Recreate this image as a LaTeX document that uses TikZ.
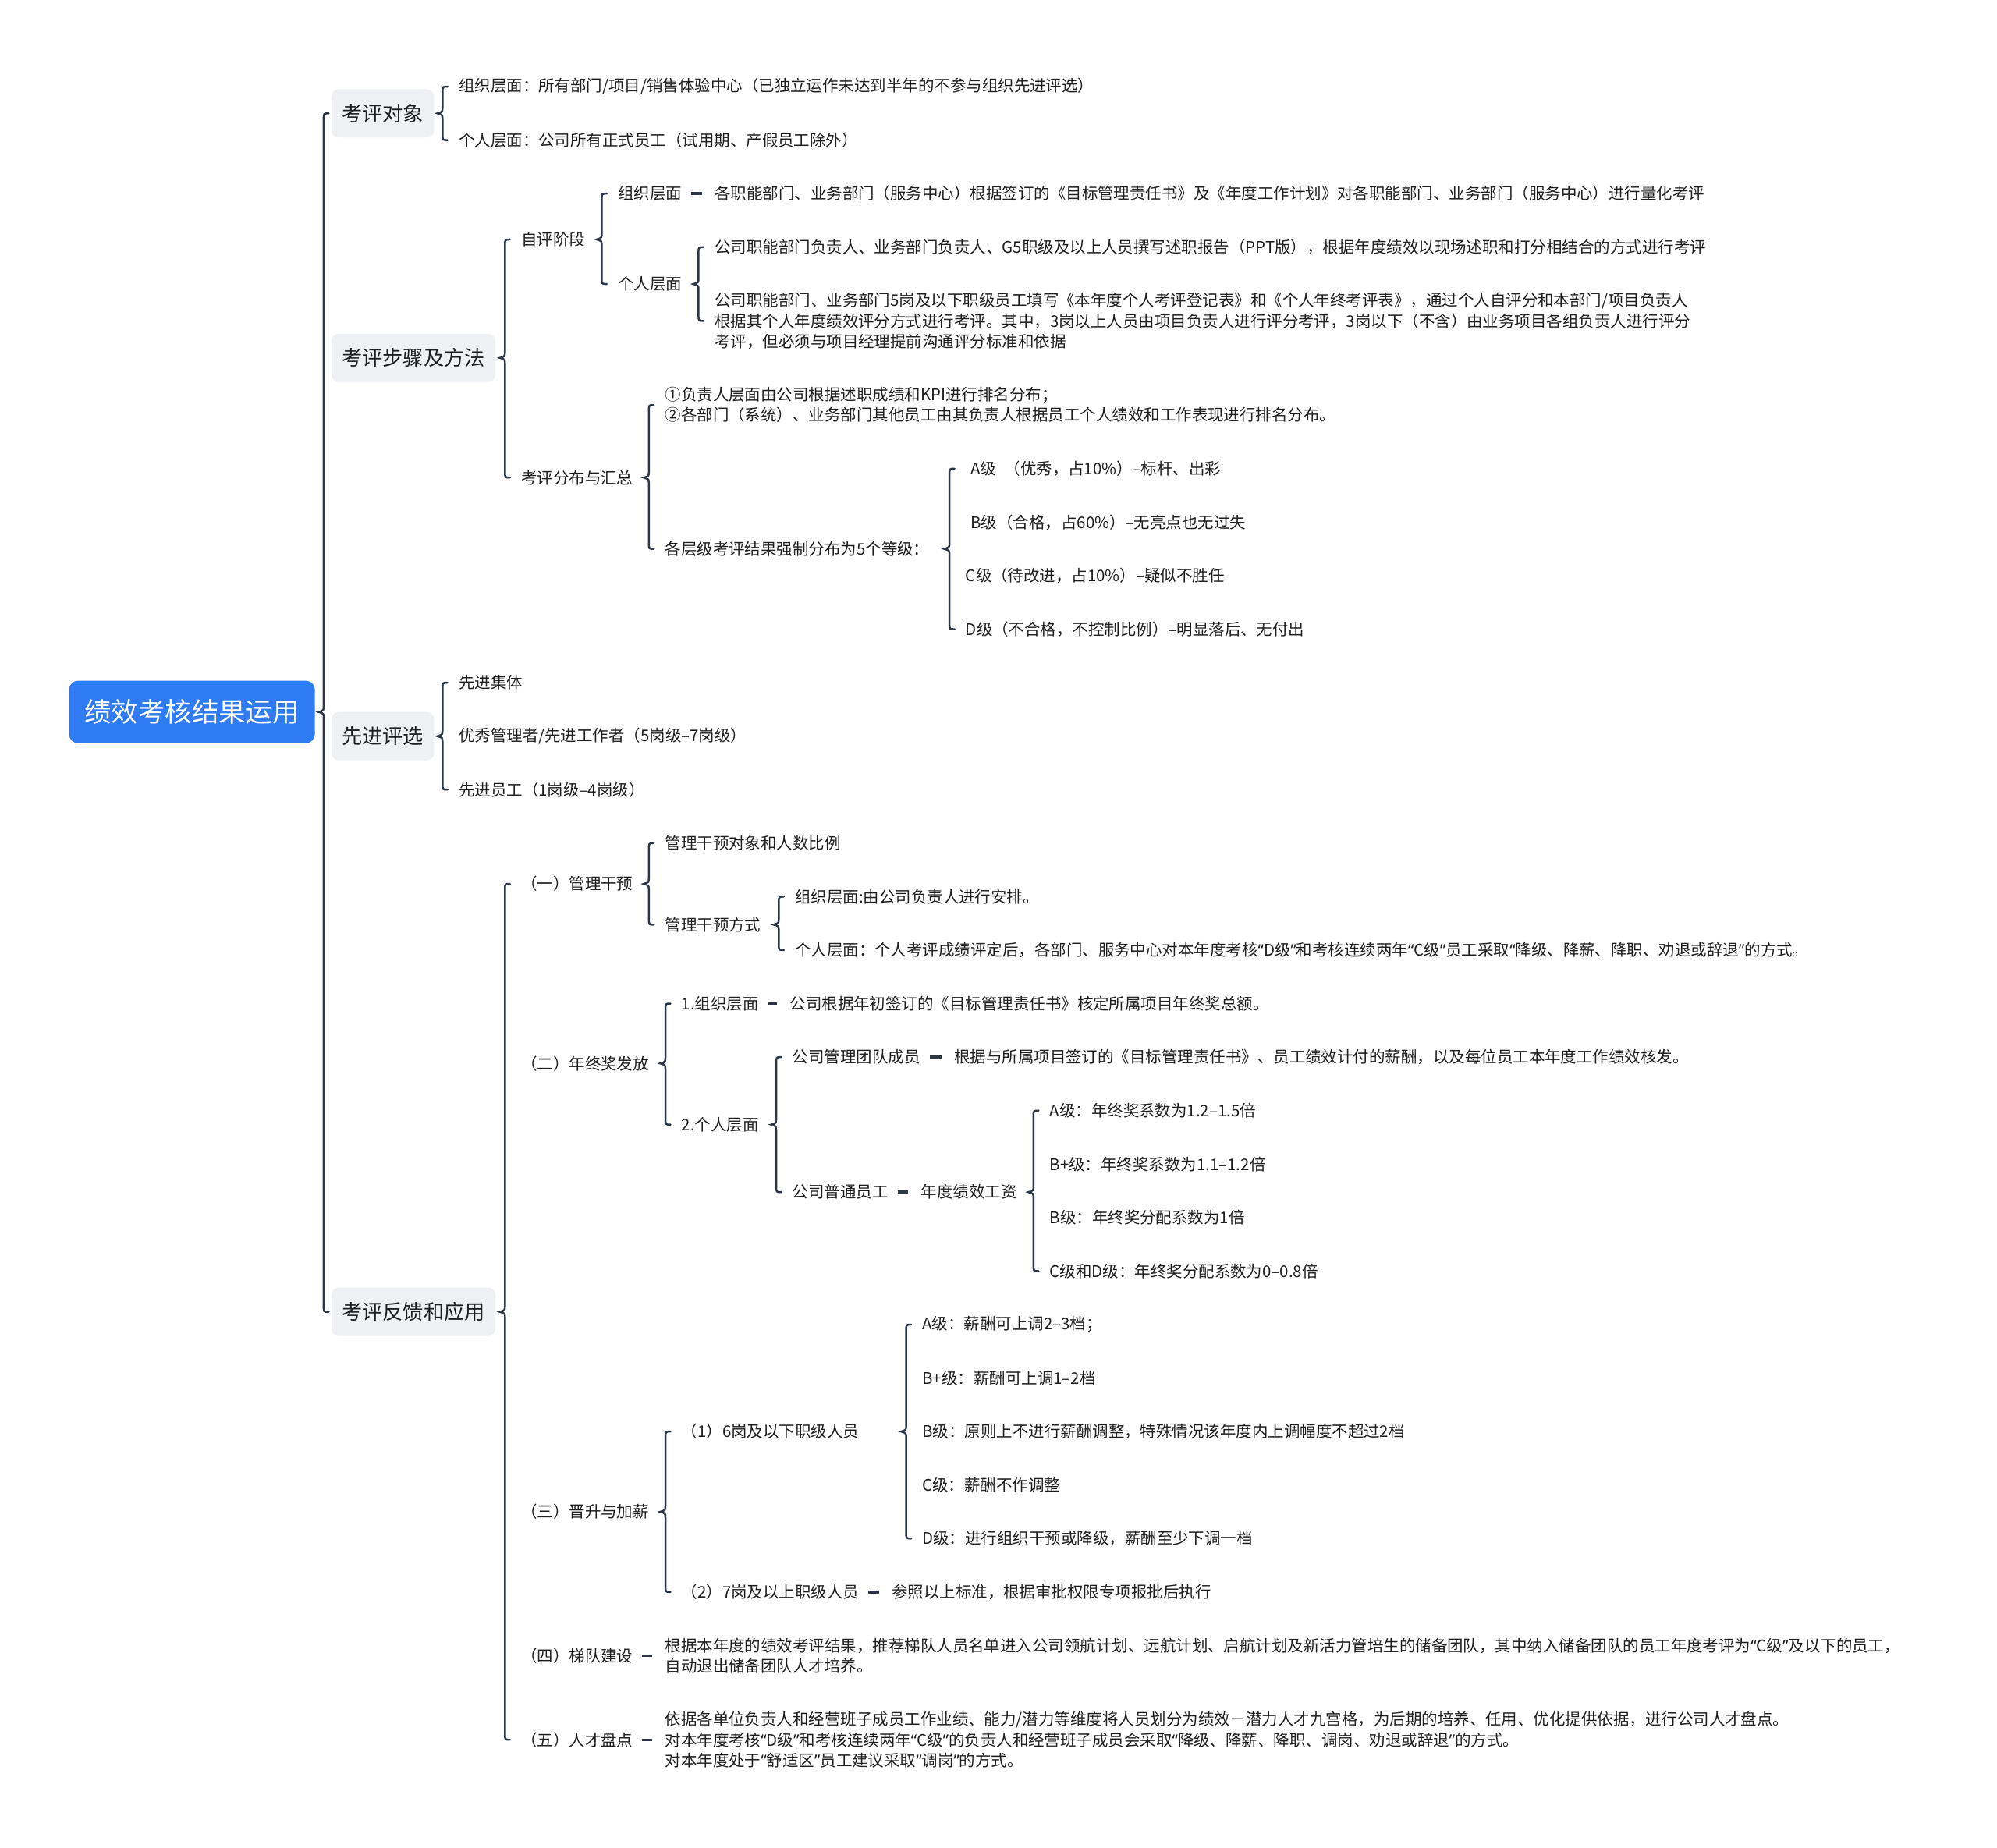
\documentclass[tikz,border=0pt]{standalone}
\usepackage{fontspec}
\setmainfont{Noto Sans CJK SC}
\newfontfamily\qfont{Noto Sans}
\usetikzlibrary{calc}

\definecolor{rootblue}{HTML}{2F7BF3}
\definecolor{boxgray}{HTML}{EEF0F3}
\definecolor{linenavy}{HTML}{2B3648}
\definecolor{txtcol}{HTML}{1E1E1E}

\newcommand\leaffont{\fontsize{10.7}{13.66}\selectfont}
\newcommand\topicfont{\fontsize{13.7}{16}\selectfont}
\newcommand\rootfont{\fontsize{18}{21}\selectfont}
\newcommand\qt[1]{{\qfont“}#1{\qfont”}}

% curly brace from a parent node to its first and last child
\newcommand\brc[4][10.7pt]{%
  \draw[brc] let \p0=(#2.east), \p1=(#3.west), \p2=(#4.west) in
    (\x2-#1+3.4pt,\y1) .. controls (\x2-#1,\y1) .. (\x2-#1,\y1-4pt)
    -- (\x2-#1,\y0+4pt) .. controls (\x2-#1,\y0+1pt) .. (\x2-#1-3.4pt,\y0)
    .. controls (\x2-#1,\y0-1pt) .. (\x2-#1,\y0-4pt)
    -- (\x2-#1,\y2+4pt) .. controls (\x2-#1,\y2) .. (\x2-#1+3.4pt,\y2);}

\begin{document}
\begin{tikzpicture}[x=0.03cm, y=-0.03cm,
    leaf/.style={anchor=west, inner xsep=0pt, inner ysep=2pt, font=\leaffont, text=txtcol, align=left},
    topic/.style={anchor=west, fill=boxgray, rounded corners=5pt, inner xsep=7pt, minimum height=1.14cm, font=\topicfont, text=txtcol},
    rootnode/.style={anchor=west, fill=rootblue, rounded corners=6pt, minimum width=5.79cm, minimum height=1.47cm, font=\rootfont, text=white},
    brc/.style={draw=linenavy, line width=1.3pt, line cap=round},
    dashc/.style={draw=linenavy, line width=1.8pt, shorten <=6pt, shorten >=8.5pt}]
    \useasboundingbox (0,0) rectangle (1568,1451);

    % Root and main topics
    \node[rootnode] (root) at (54,559) {绩效考核结果运用};
    \node[topic] (ob) at (260,89) {考评对象};
    \node[topic] (st) at (260,281) {考评步骤及方法};
    \node[topic] (xj) at (260,578) {先进评选};
    \node[topic] (fk) at (260,1030) {考评反馈和应用};
    \brc[5pt]{root}{ob}{fk}

    % 考评对象
    \node[leaf] (ob1) at (360,68) {组织层面：所有部门/项目/销售体验中心（已独立运作未达到半年的不参与组织先进评选）};
    \node[leaf] (ob2) at (360,110) {个人层面：公司所有正式员工（试用期、产假员工除外）};
    \brc{ob}{ob1}{ob2}

    % 考评步骤及方法
    \node[leaf] (zp) at (409,188) {自评阶段};
    \node[leaf] (fb) at (409,375) {考评分布与汇总};
    \brc{st}{zp}{fb}

    \node[leaf] (zp1) at (485,152) {组织层面};
    \node[leaf] (zp1t) at (561,152) {各职能部门、业务部门（服务中心）根据签订的《目标管理责任书》及《年度工作计划》对各职能部门、业务部门（服务中心）进行量化考评};
    \draw[dashc] (zp1.east) -- (zp1t.west);
    \node[leaf] (zp2) at (485,223) {个人层面};
    \brc{zp}{zp1}{zp2}

    \node[leaf] (zp21) at (561,194) {公司职能部门负责人、业务部门负责人、G5职级及以上人员撰写述职报告（PPT版），根据年度绩效以现场述职和打分相结合的方式进行考评};
    \node[leaf] (zp22) at (561,252) {公司职能部门、业务部门5岗及以下职级员工填写《本年度个人考评登记表》和《个人年终考评表》，通过个人自评分和本部门/项目负责人\\根据其个人年度绩效评分方式进行考评。其中，3岗以上人员由项目负责人进行评分考评，3岗以下（不含）由业务项目各组负责人进行评分\\考评，但必须与项目经理提前沟通评分标准和依据};
    \brc{zp2}{zp21}{zp22}

    \node[leaf] (fb1) at (522,318) {①负责人层面由公司根据述职成绩和KPI进行排名分布；\\②各部门（系统）、业务部门其他员工由其负责人根据员工个人绩效和工作表现进行排名分布。};
    \node[leaf] (fb2) at (522,431) {各层级考评结果强制分布为5个等级：};
    \brc{fb}{fb1}{fb2}

    \node[leaf] (fbA) at (762,368) {A级\hspace{0.5em}（优秀，占10\%）–标杆、出彩};
    \node[leaf] (fbB) at (762,410) {B级（合格，占60\%）–无亮点也无过失};
    \node[leaf] (fbC) at (758,452) {C级（待改进，占10\%）–疑似不胜任};
    \node[leaf] (fbD) at (758,494) {D级（不合格，不控制比例）–明显落后、无付出};
    \brc{fb2}{fbA}{fbD}

    % 先进评选
    \node[leaf] (xj1) at (360,536) {先进集体};
    \node[leaf] (xj2) at (360,578) {优秀管理者/先进工作者（5岗级–7岗级）};
    \node[leaf] (xj3) at (360,620) {先进员工（1岗级–4岗级）};
    \brc{xj}{xj1}{xj3}

    % 考评反馈和应用
    \node[leaf] (gy) at (409,694) {（一）管理干预};
    \node[leaf] (nz) at (409,835) {（二）年终奖发放};
    \node[leaf] (js) at (409,1187) {（三）晋升与加薪};
    \node[leaf] (td) at (409,1300) {（四）梯队建设};
    \node[leaf] (rc) at (409,1366) {（五）人才盘点};
    \brc{fk}{gy}{rc}

    \node[leaf] (gy1) at (522,662) {管理干预对象和人数比例};
    \node[leaf] (gy2) at (522,726) {管理干预方式};
    \brc{gy}{gy1}{gy2}
    \node[leaf] (gy21) at (624,704) {组织层面:由公司负责人进行安排。};
    \node[leaf] (gy22) at (624,746) {个人层面：个人考评成绩评定后，各部门、服务中心对本年度考核\qt{D级}和考核连续两年\qt{C级}员工采取\qt{降级、降薪、降职、劝退或辞退}的方式。};
    \brc{gy2}{gy21}{gy22}

    \node[leaf] (nz1) at (535,788) {1.组织层面};
    \node[leaf] (nz1t) at (620,788) {公司根据年初签订的《目标管理责任书》核定所属项目年终奖总额。};
    \draw[dashc] (nz1.east) -- (nz1t.west);
    \node[leaf] (nz2) at (535,883) {2.个人层面};
    \brc{nz}{nz1}{nz2}
    \node[leaf] (nz21) at (622,830) {公司管理团队成员};
    \node[leaf] (nz21t) at (749,830) {根据与所属项目签订的《目标管理责任书》、员工绩效计付的薪酬，以及每位员工本年度工作绩效核发。};
    \draw[dashc] (nz21.east) -- (nz21t.west);
    \node[leaf] (nz22) at (622,936) {公司普通员工};
    \node[leaf] (nz22t) at (723,936) {年度绩效工资};
    \draw[dashc] (nz22.east) -- (nz22t.west);
    \brc{nz2}{nz21}{nz22}
    \node[leaf] (nzA) at (824,872) {A级：年终奖系数为1.2–1.5倍};
    \node[leaf] (nzBp) at (824,914) {B+级：年终奖系数为1.1–1.2倍};
    \node[leaf] (nzB) at (824,956) {B级：年终奖分配系数为1倍};
    \node[leaf] (nzCD) at (824,998) {C级和D级：年终奖分配系数为0–0.8倍};
    \brc{nz22t}{nzA}{nzCD}

    \node[leaf] (js1) at (535,1124) {（1）6岗及以下职级人员};
    \node[leaf] (js2) at (535,1250) {（2）7岗及以上职级人员};
    \node[leaf] (js2t) at (700,1250) {参照以上标准，根据审批权限专项报批后执行};
    \draw[dashc] (js2.east) -- (js2t.west);
    \brc{js}{js1}{js2}
    \node[leaf] (jsA) at (724,1040) {A级：薪酬可上调2–3档；};
    \node[leaf] (jsBp) at (724,1082) {B+级：薪酬可上调1–2档};
    \node[leaf] (jsB) at (724,1124) {B级：原则上不进行薪酬调整，特殊情况该年度内上调幅度不超过2档};
    \node[leaf] (jsC) at (724,1166) {C级：薪酬不作调整};
    \node[leaf] (jsD) at (724,1208) {D级：进行组织干预或降级，薪酬至少下调一档};
    \brc{js1}{jsA}{jsD}

    \node[leaf] (tdt) at (522,1300) {根据本年度的绩效考评结果，推荐梯队人员名单进入公司领航计划、远航计划、启航计划及新活力管培生的储备团队，其中纳入储备团队的员工年度考评为\qt{C级}及以下的员工，\\自动退出储备团队人才培养。};
    \draw[dashc] (td.east) -- (tdt.west);
    \node[leaf] (rct) at (522,1366) {依据各单位负责人和经营班子成员工作业绩、能力/潜力等维度将人员划分为绩效－潜力人才九宫格，为后期的培养、任用、优化提供依据，进行公司人才盘点。\\对本年度考核\qt{D级}和考核连续两年\qt{C级}的负责人和经营班子成员会采取\qt{降级、降薪、降职、调岗、劝退或辞退}的方式。\\对本年度处于\qt{舒适区}员工建议采取\qt{调岗}的方式。};
    \draw[dashc] (rc.east) -- (rct.west);
\end{tikzpicture}
\end{document}
